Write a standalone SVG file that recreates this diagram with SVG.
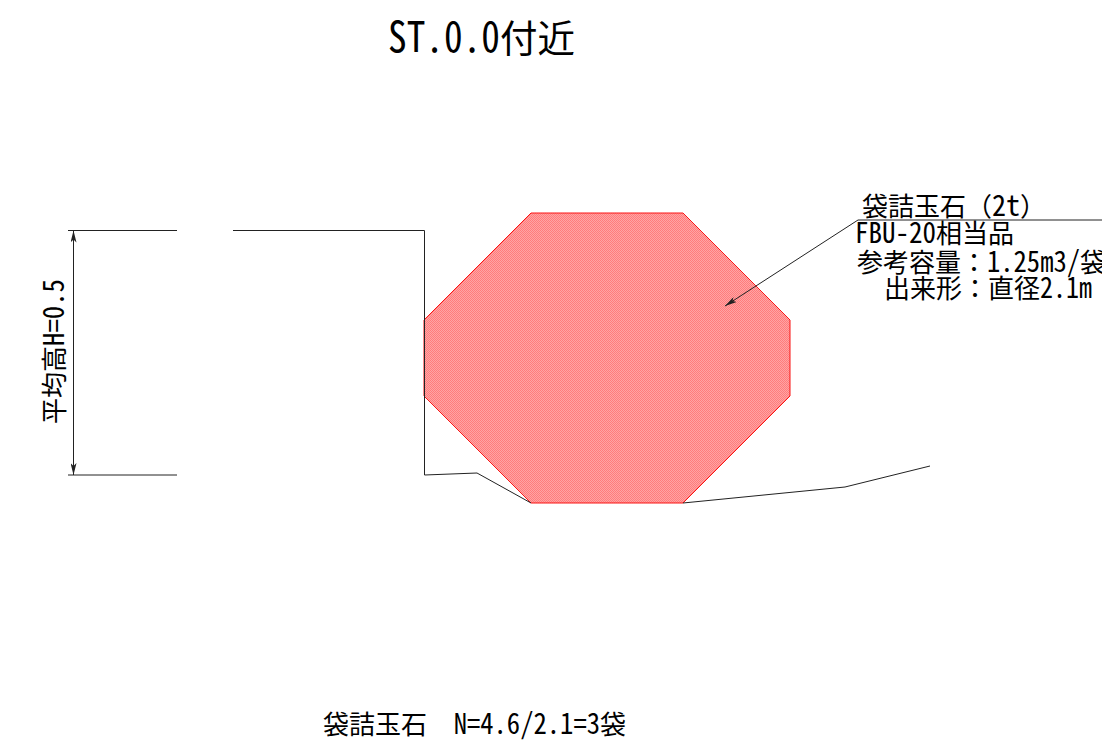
<svg xmlns="http://www.w3.org/2000/svg" width="1102" height="752" viewBox="0 0 1102 752">
<style>
text{font-family:"Noto Sans CJK JP",sans-serif;fill:#000;white-space:pre}
.m{font-size:26px}
.t{font-size:37.500px}
.h{font-feature-settings:"hwid"}
.m .h{font-size:29px}
.t .h{font-size:42px}
.l{fill:none;stroke:#222;stroke-width:1}
</style>
<defs>
<pattern id="h" width="2" height="2" patternUnits="userSpaceOnUse">
<rect width="2" height="2" fill="#ffa4a4"/>
<rect width="1" height="1" fill="#ff7c7c"/>
<rect x="1" y="1" width="1" height="1" fill="#ff7c7c"/>
</pattern>
<marker id="a" markerWidth="12" markerHeight="6" refX="12" refY="3" orient="auto-start-reverse" markerUnits="userSpaceOnUse">
<path d="M0 0L12 3L0 6L3 3Z" fill="#222"/>
</marker>
</defs>
<rect width="1102" height="752" fill="#fff"/>
<g id="bag">
<polygon points="531,213 683,213 790,320 790,396 683,503 531,503 424,396 424,320" fill="url(#h)" stroke="#fa1414" stroke-width="1"/>
</g>
<g id="connectors">
<path class="l" d="M68 230.500H177M233 230.500H424.500V475L477 473L531 503"/>
<path class="l" d="M68 475H177"/>
<path class="l" d="M73.500 230.500V475" marker-start="url(#a)" marker-end="url(#a)"/>
<path class="l" d="M683 503L845 487L930 466"/>
<path class="l" d="M1102 220H858L725 306" marker-end="url(#a)"/>
</g>
<g id="labels">
<text class="t" x="388" y="52"><tspan class="h" textLength="112" lengthAdjust="spacingAndGlyphs">ST.0.0</tspan>付近</text>
<text class="m" x="862" y="216">袋詰玉石（<tspan class="h" textLength="28" lengthAdjust="spacingAndGlyphs">2t</tspan>）</text>
<text class="m" x="855" y="243"><tspan class="h" textLength="81" lengthAdjust="spacingAndGlyphs">FBU-20</tspan>相当品</text>
<text class="m" x="857" y="272">参考容量：<tspan class="h" textLength="93" lengthAdjust="spacingAndGlyphs">1.25m3/</tspan>袋</text>
<text class="m" x="884" y="298">出来形：直径<tspan class="h" textLength="52" lengthAdjust="spacingAndGlyphs">2.1m</tspan></text>
<text class="m" x="323" y="734">袋詰玉石<tspan class="h" textLength="173" lengthAdjust="spacingAndGlyphs">  N=4.6/2.1=3</tspan>袋</text>
<text class="m" transform="translate(64 424) rotate(-90)">平均高<tspan class="h" textLength="67" lengthAdjust="spacingAndGlyphs">H=0.5</tspan></text>
</g>
</svg>
